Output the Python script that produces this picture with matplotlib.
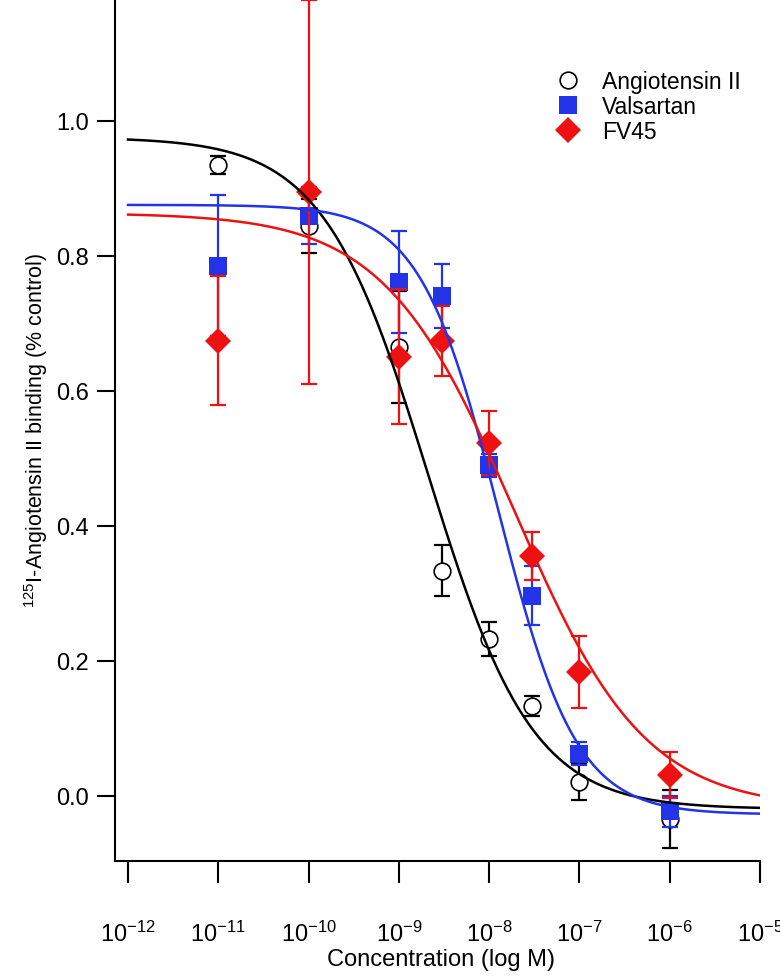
import numpy as np
import matplotlib
matplotlib.use("Agg")
import matplotlib.pyplot as plt
from matplotlib.lines import Line2D
from matplotlib.ticker import FixedLocator, FixedFormatter, NullLocator

# ---------------- data ----------------
conc = [1e-11, 1e-10, 1e-9, 3e-9, 1e-8, 3e-8, 1e-7, 1e-6]
series_names = ["Angiotensin II", "Valsartan", "FV45"]
ang = [0.934, 0.844, 0.665, 0.333, 0.232, 0.133, 0.020, -0.035]
ang_err = [0.013, 0.040, 0.083, 0.038, 0.025, 0.015, 0.026, 0.043]
val = [0.785, 0.859, 0.761, 0.740, 0.489, 0.296, 0.062, -0.023]
val_err = [0.104, 0.042, 0.076, 0.047, 0.017, 0.044, 0.017, 0.023]
fv = [0.674, 0.894, 0.650, 0.673, 0.522, 0.355, 0.183, 0.031]
fv_err = [0.095, 0.285, 0.100, 0.052, 0.047, 0.035, 0.053, 0.034]
# fitted 4-parameter logistic curves: top, bottom, logIC50, hill
ang_fit = [0.975, -0.020, -8.68, 0.75]
val_fit = [0.875, -0.028, -7.90, 1.00]
fv_fit = [0.863, -0.020, -7.72, 0.60]
xtick_exp = [-12, -11, -10, -9, -8, -7, -6, -5]
ytick_vals = [0.0, 0.2, 0.4, 0.6, 0.8, 1.0]

BLUE = "#2233e8"
RED = "#ee1111"

plt.rcParams["font.family"] = ["Liberation Sans", "DejaVu Sans"]
plt.rcParams["mathtext.default"] = "regular"

W, H = 780, 978
fig = plt.figure(figsize=(W / 100, H / 100), dpi=100)
ax = fig.add_axes([115 / W, (H - 862) / H, (760 - 115) / W, 862 / H])


def logistic(x, p):
    top, bot, lc, h = p
    return bot + (top - bot) / (1 + 10 ** ((np.log10(x) - lc) * h))


xs = np.logspace(-12, -5, 500)

specs = [
    (ang, ang_err, ang_fit, "black", dict(marker="o", mfc="white", mec="black", ms=12, mew=1.2)),
    (val, val_err, val_fit, BLUE, dict(marker="s", mfc=BLUE, mec=BLUE, ms=12.5, mew=0)),
    (fv, fv_err, fv_fit, RED, dict(marker="D", mfc=RED, mec=RED, ms=13, mew=0)),
]

z = 2
for yv, ye, fit, col, mk in specs:
    ax.errorbar(conc, yv, yerr=ye, fmt="none", ecolor=col, elinewidth=1.6,
                capsize=6, capthick=1.6, zorder=z, clip_on=False)
    ax.plot(conc, yv, linestyle="none", zorder=z + 0.5, clip_on=False, **mk)
    z += 1
for yv, ye, fit, col, mk in specs:
    ax.plot(xs, logistic(xs, fit), color=col, lw=1.8, zorder=6)

ax.set_xscale("log")
ax.set_xlim(10 ** (-12 - 13 / 90.3), 1e-5)
ax.set_ylim(-0.097, 1.18)

ax.xaxis.set_major_locator(FixedLocator([10.0 ** e for e in xtick_exp]))
ax.xaxis.set_major_formatter(FixedFormatter([r"$\mathregular{10^{%d}}$" % e for e in xtick_exp]))
ax.xaxis.set_minor_locator(NullLocator())
ax.yaxis.set_major_locator(FixedLocator(ytick_vals))
ax.yaxis.set_major_formatter(FixedFormatter(["%.1f" % v for v in ytick_vals]))

for s in ["top", "right"]:
    ax.spines[s].set_visible(False)
for s in ["left", "bottom"]:
    ax.spines[s].set_linewidth(1.5)

ax.tick_params(axis="y", direction="out", length=13, width=1.5, labelsize=17, pad=6)
ax.tick_params(axis="x", direction="out", length=16, width=1.5, labelsize=17, pad=27)

ax.set_xlabel("Concentration (log M)", fontsize=17)
ax.xaxis.set_label_coords(0.505, -(949 - 862) / 862)
ax.set_ylabel(r"$^{125}$I-Angiotensin II binding (% control)", fontsize=15.5)
ax.yaxis.set_label_coords(-(115 - 50) / 645, 0.5)

handles = [
    Line2D([], [], linestyle="none", marker="o", mfc="white", mec="black", ms=12, mew=1.2),
    Line2D([], [], linestyle="none", marker="s", mfc=BLUE, mec=BLUE, ms=12.5, mew=0),
    Line2D([], [], linestyle="none", marker="D", mfc=RED, mec=RED, ms=13, mew=0),
]
leg = fig.legend(handles, series_names, loc="upper left",
                 bbox_to_anchor=(545 / W, 1 - 62 / H), frameon=False,
                 fontsize=16.5, labelspacing=0.08, handletextpad=0.9,
                 handlelength=1.2, borderaxespad=0)

fig.savefig("out.png", dpi=100)
